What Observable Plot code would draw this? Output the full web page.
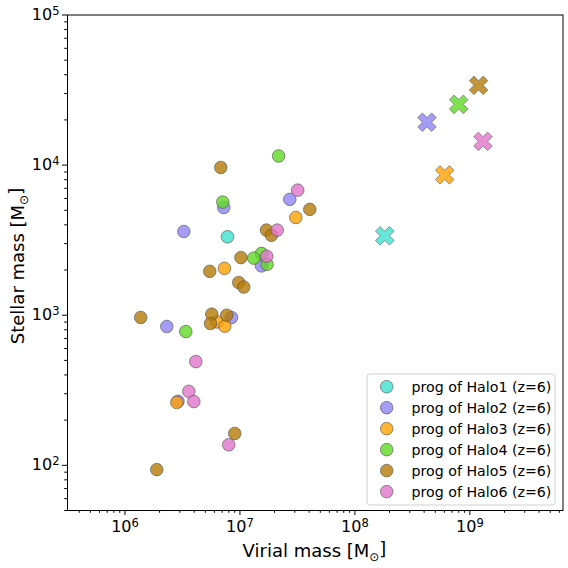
<!DOCTYPE html>
<html>
<head>
<meta charset="utf-8">
<script src="https://cdn.jsdelivr.net/npm/d3@7"></script>
<script src="https://cdn.jsdelivr.net/npm/@observablehq/plot@0.6"></script>
<style>
  html, body { margin: 0; padding: 0; background: #fff; }
  #chart { position: relative; width: 568px; height: 568px; }
</style>
</head>
<body>
<div id="chart"></div>
<script>
// ---------- data ----------
const halos = ["Halo1", "Halo2", "Halo3", "Halo4", "Halo5", "Halo6"];
const haloColors = ["#40e0d0", "#8d83f3", "#ffa000", "#5fd824", "#b47a06", "#e274cb"];
const legendLabels = halos.map(h => `prog of ${h} (z=6)`);

// progenitors (circles): [virial mass, stellar mass]
const progHalo1 = [[7.79e6, 3.33e3]];
const progHalo2 = [[2.71e7, 5.91e3], [7.23e6, 5.22e3], [3.25e6, 3.61e3], [1.54e7, 2.13e3],
                   [2.31e6, 841], [8.44e6, 966], [2.89e6, 267]];
const progHalo3 = [[3.06e7, 4.48e3], [7.33e6, 2.05e3], [6.33e6, 902], [7.38e6, 845], [2.82e6, 262]];
const progHalo4 = [[2.17e7, 1.15e4], [7.09e6, 5.67e3], [1.54e7, 2.58e3], [1.32e7, 2.40e3],
                   [1.72e7, 2.18e3], [3.38e6, 778]];
const progHalo5 = [[6.81e6, 9.65e3], [4.05e7, 5.07e3], [1.70e7, 3.69e3], [1.88e7, 3.41e3],
                   [1.02e7, 2.42e3], [5.46e6, 1.96e3], [9.76e6, 1.65e3], [1.08e7, 1.54e3],
                   [1.37e6, 966], [5.69e6, 1016], [5.54e6, 881], [7.68e6, 1000],
                   [9.01e6, 163], [1.89e6, 93.6]];
const progHalo6 = [[3.18e7, 6.81e3], [2.11e7, 3.69e3], [1.71e7, 2.47e3], [4.13e6, 491],
                   [3.59e6, 311], [3.97e6, 266], [7.99e6, 137]];

// main haloes at z=6 (crosses)
const mainVir  = [1.82e8, 4.24e8, 6.04e8, 7.99e8, 1.19e9, 1.30e9];
const mainStar = [3.38e3, 1.93e4, 8.61e3, 2.54e4, 3.40e4, 1.44e4];

const xMajor = [1e6, 1e7, 1e8, 1e9];
const yMajor = [1e2, 1e3, 1e4, 1e5];

// ---------- build tables ----------
const progLists = [progHalo1, progHalo2, progHalo3, progHalo4, progHalo5, progHalo6];
const progs = progLists.flatMap((list, i) => list.map(([mv, ms]) => ({halo: halos[i], mv, ms})));
const mains = halos.map((h, i) => ({halo: h, mv: mainVir[i], ms: mainStar[i]}));

const xDomain = [Math.pow(10, 5.5), Math.pow(10, 9.81)];
const yDomain = [50, 1e5];
const minorTicks = (lo, hi) => {
  const out = [];
  for (let e = Math.floor(Math.log10(lo)); e <= Math.ceil(Math.log10(hi)); e++)
    for (let m = 2; m <= 9; m++) { const v = m * Math.pow(10, e); if (v >= lo && v <= hi) out.push(v); }
  return out;
};
const xMinor = minorTicks(xDomain[0], xDomain[1]);
const yMinor = minorTicks(yDomain[0], yDomain[1]);

// matplotlib-like filled "X" marker
const Xsym = {
  draw(context, size) {
    const R = Math.sqrt(size / Math.PI);
    const s = R / (4 / Math.SQRT2);
    const pts = [[-1,-3],[1,-3],[1,-1],[3,-1],[3,1],[1,1],[1,3],[-1,3],[-1,1],[-3,1],[-3,-1],[-1,-1]];
    const c = Math.SQRT1_2;
    pts.forEach(([px, py], k) => {
      const x = (px * c - py * c) * s, y = (px * c + py * c) * s;
      if (k === 0) context.moveTo(x, y); else context.lineTo(x, y);
    });
    context.closePath();
  }
};

const expFmt = d => "10^" + Math.round(Math.log10(d));

const plot = Plot.plot({
  width: 568,
  height: 568,
  marginLeft: 67,
  marginRight: 5.5,
  marginTop: 14.5,
  marginBottom: 58,
  style: {fontFamily: "DejaVu Sans", background: "#fff", color: "#000"},
  x: {type: "log", domain: xDomain},
  y: {type: "log", domain: yDomain},
  color: {domain: halos, range: haloColors},
  marks: [
    Plot.axisX(xMinor, {tickSize: 2.8, tickFormat: () => "", label: null, stroke: "#000"}),
    Plot.axisX(xMajor, {tickSize: 5, tickPadding: 5, tickFormat: expFmt, fontSize: 16, label: null, stroke: "#000"}),
    Plot.axisY(yMinor, {tickSize: 2.8, tickFormat: () => "", label: null, stroke: "#000"}),
    Plot.axisY(yMajor, {tickSize: 5, tickPadding: 3, tickFormat: expFmt, fontSize: 16, label: null, stroke: "#000"}),
    Plot.dot(progs, {x: "mv", y: "ms", fill: "halo", r: 6.3, fillOpacity: 0.8,
                     stroke: "#555", strokeWidth: 0.8, strokeOpacity: 0.8}),
    Plot.dot(mains, {x: "mv", y: "ms", fill: "halo", symbol: Xsym, r: 9.3, fillOpacity: 0.8,
                     stroke: "#666", strokeWidth: 0.8, strokeOpacity: 0.8}),
    Plot.frame({stroke: "#000", strokeWidth: 1})
  ]
});

document.getElementById("chart").appendChild(plot);

// superscripted exponent tick labels
const svg = d3.select(plot);
svg.selectAll("text").each(function() {
  const t = this.textContent;
  const m = /^10\^(\d+)$/.exec(t);
  if (!m) return;
  const sel = d3.select(this);
  sel.text("");
  sel.append("tspan").text("10");
  sel.append("tspan").attr("dy", "-0.45em").attr("font-size", "11.5px").text(m[1]);
});

// axis labels
const addLabel = (g, text, attrs) => {
  const el = g.append("text").attr("font-size", 18).attr("fill", "#000");
  Object.entries(attrs).forEach(([k, v]) => el.attr(k, v));
  el.append("tspan").text(text + " [M");
  el.append("tspan").attr("font-size", "12px").attr("dy", "0.3em").text("⊙");
  el.append("tspan").attr("dy", "-0.3em").text("]");
  return el;
};
const lg = svg.append("g").attr("font-family", "DejaVu Sans");
addLabel(lg, "Virial mass", {x: 314.5, y: 557, "text-anchor": "middle"});
addLabel(lg, "Stellar mass", {transform: "translate(24,266) rotate(-90)", "text-anchor": "middle"});

// legend
const leg = svg.append("g").attr("font-family", "DejaVu Sans").attr("text-anchor", "start");
leg.append("rect").attr("x", 367).attr("y", 374).attr("width", 188).attr("height", 131)
  .attr("rx", 3).attr("fill", "#fff").attr("fill-opacity", 0.8).attr("stroke", "#d0d0d0");
halos.forEach((h, i) => {
  const cy = 386.7 + i * 20.98;
  leg.append("circle").attr("cx", 386.7).attr("cy", cy).attr("r", 6.3)
    .attr("fill", haloColors[i]).attr("fill-opacity", 0.8)
    .attr("stroke", "#555").attr("stroke-width", 0.8).attr("stroke-opacity", 0.8);
  leg.append("text").attr("x", 411.5).attr("y", cy).attr("dy", "0.36em")
    .attr("text-anchor", "start")
    .attr("font-size", 14.2).attr("fill", "#000").text(legendLabels[i]);
});
</script>
</body>
</html>
